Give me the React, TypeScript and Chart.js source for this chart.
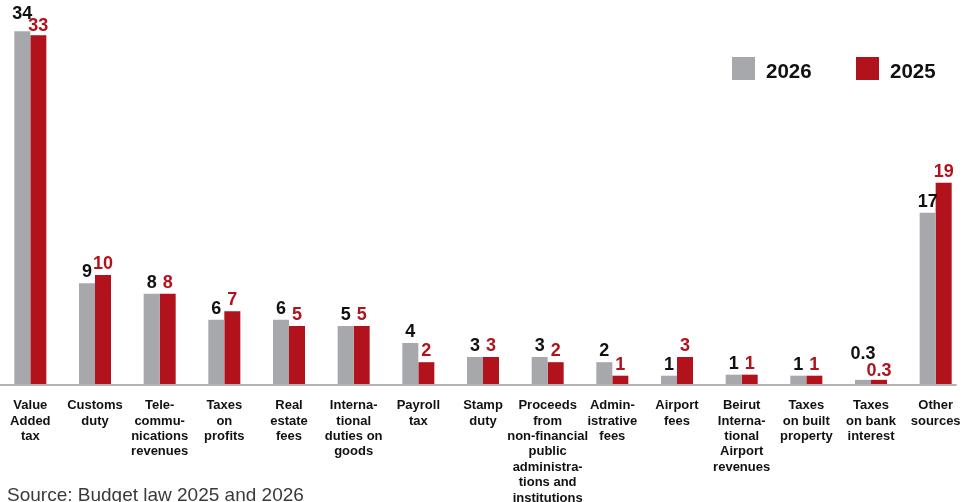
import React, { useEffect, useRef } from "react";
import { Chart, registerables } from "chart.js";

Chart.register(...registerables);

const categories: string[][] = [
  ["Value", "Added", "tax"],
  ["Customs", "duty"],
  ["Tele-", "commu-", "nications", "revenues"],
  ["Taxes", "on", "profits"],
  ["Real", "estate", "fees"],
  ["Interna-", "tional", "duties on", "goods"],
  ["Payroll", "tax"],
  ["Stamp", "duty"],
  ["Proceeds", "from", "non-financial", "public", "administra-", "tions and", "institutions"],
  ["Admin-", "istrative", "fees"],
  ["Airport", "fees"],
  ["Beirut", "Interna-", "tional", "Airport", "revenues"],
  ["Taxes", "on built", "property"],
  ["Taxes", "on bank", "interest"],
  ["Other", "sources"],
];

const seriesNames = ["2026", "2025"];

const values2026 = [34.0, 9.7, 8.7, 6.2, 6.2, 5.6, 3.95, 2.6, 2.6, 2.1, 0.8, 0.9, 0.8, 0.4, 16.5];
const values2025 = [33.6, 10.5, 8.7, 7.0, 5.6, 5.6, 2.1, 2.6, 2.1, 0.8, 2.6, 0.9, 0.8, 0.4, 19.4];

const labels2026 = ["34", "9", "8", "6", "6", "5", "4", "3", "3", "2", "1", "1", "1", "0.3", "17"];
const labels2025 = ["33", "10", "8", "7", "5", "5", "2", "3", "2", "1", "3", "1", "1", "0.3", "19"];

const sourceNote = "Source: Budget law 2025 and 2026";

const GRAY = "#a7a8ac";
const RED = "#b1121b";
const FONT = "'Liberation Sans', Arial, sans-serif";

const valueLabelPlugin = {
  id: "valueLabels",
  afterDatasetsDraw(chart: any) {
    const ctx = chart.ctx;
    const m0 = chart.getDatasetMeta(0);
    const m1 = chart.getDatasetMeta(1);
    ctx.save();
    ctx.font = `bold 18px ${FONT}`;
    ctx.textAlign = "center";
    ctx.textBaseline = "alphabetic";
    const gap = 6;
    for (let i = 0; i < m0.data.length; i++) {
      const g = m0.data[i];
      const r = m1.data[i];
      const gl = labels2026[i];
      const rl = labels2025[i];
      const gw = ctx.measureText(gl).width;
      const rw = ctx.measureText(rl).width;
      let gy = g.y - gap;
      let ry = r.y - gap;
      const overlap = g.x + gw / 2 - (r.x - rw / 2);
      if (overlap > 0 && Math.abs(gy - ry) < 14) {
        ry = r.y - 4;
        gy = Math.min(g.y - gap, ry - (overlap > 6 ? 17 : 12));
      }
      ctx.fillStyle = "#111111";
      ctx.fillText(gl, g.x, gy);
      ctx.fillStyle = RED;
      ctx.fillText(rl, r.x, ry);
    }
    ctx.restore();
  },
};

const axisLinePlugin = {
  id: "axisLine",
  afterDatasetsDraw(chart: any) {
    const ctx = chart.ctx;
    const area = chart.chartArea;
    const m1 = chart.getDatasetMeta(1);
    const last = m1.data[m1.data.length - 1];
    const xEnd = last.x + last.width / 2 + 5;
    ctx.save();
    ctx.strokeStyle = "#b3b3b3";
    ctx.lineWidth = 2;
    ctx.beginPath();
    ctx.moveTo(0, area.bottom + 1);
    ctx.lineTo(xEnd, area.bottom + 1);
    ctx.stroke();
    ctx.restore();
  },
};

const legendPlugin = {
  id: "customLegend",
  afterDraw(chart: any) {
    const ctx = chart.ctx;
    ctx.save();
    const x0 = 734;
    const top = 57;
    const box = 23;
    const step = 124;
    ctx.font = `bold 20.5px ${FONT}`;
    ctx.textAlign = "left";
    ctx.textBaseline = "alphabetic";
    chart.data.datasets.forEach((ds: any, i: number) => {
      const x = x0 + i * step;
      ctx.fillStyle = ds.backgroundColor;
      ctx.fillRect(x, top, box, box);
      ctx.fillStyle = "#111111";
      ctx.fillText(ds.label, x + 34, top + 20.5);
    });
    ctx.restore();
  },
};

const sourcePlugin = {
  id: "sourceNote",
  afterDraw(chart: any) {
    const ctx = chart.ctx;
    ctx.save();
    ctx.font = `19px ${FONT}`;
    ctx.fillStyle = "#3a3a3a";
    ctx.textAlign = "left";
    ctx.textBaseline = "alphabetic";
    ctx.fillText(sourceNote, 9, 500.5);
    ctx.restore();
  },
};

export default function App() {
  const ref = useRef<HTMLCanvasElement | null>(null);

  useEffect(() => {
    if (!ref.current) return;
    const chart = new Chart(ref.current, {
      type: "bar",
      data: {
        labels: categories as any,
        datasets: [
          {
            label: seriesNames[0],
            data: values2026,
            backgroundColor: GRAY,
            borderWidth: 0,
            barPercentage: 1,
            categoryPercentage: 0.495,
          },
          {
            label: seriesNames[1],
            data: values2025,
            backgroundColor: RED,
            borderWidth: 0,
            barPercentage: 1,
            categoryPercentage: 0.495,
          },
        ],
      },
      options: {
        animation: false,
        responsive: true,
        maintainAspectRatio: false,
        devicePixelRatio: 1,
        layout: { padding: 0 },
        plugins: {
          legend: { display: false },
          tooltip: { enabled: false },
        },
        scales: {
          x: {
            type: "category",
            offset: true,
            grid: { display: false, drawTicks: true, tickLength: 14 },
            border: { display: false },
            ticks: {
              color: "#111111",
              font: { family: FONT, size: 13, weight: "bold", lineHeight: 1.185 },
              padding: 0,
              maxRotation: 0,
              minRotation: 0,
              autoSkip: false,
            },
            afterFit(scale: any) {
              scale.height = 118;
            },
          },
          y: {
            display: false,
            min: 0,
            max: 37,
          },
        },
      },
      plugins: [axisLinePlugin, valueLabelPlugin, legendPlugin, sourcePlugin],
    } as any);
    return () => chart.destroy();
  }, []);

  return (
    <div
      style={{
        position: "fixed",
        left: 0,
        top: 0,
        width: 962,
        height: 502,
        overflow: "hidden",
        background: "#ffffff",
      }}
    >
      <div style={{ position: "absolute", left: -2, top: 0, width: 970, height: 502 }}>
        <canvas ref={ref} />
      </div>
    </div>
  );
}
